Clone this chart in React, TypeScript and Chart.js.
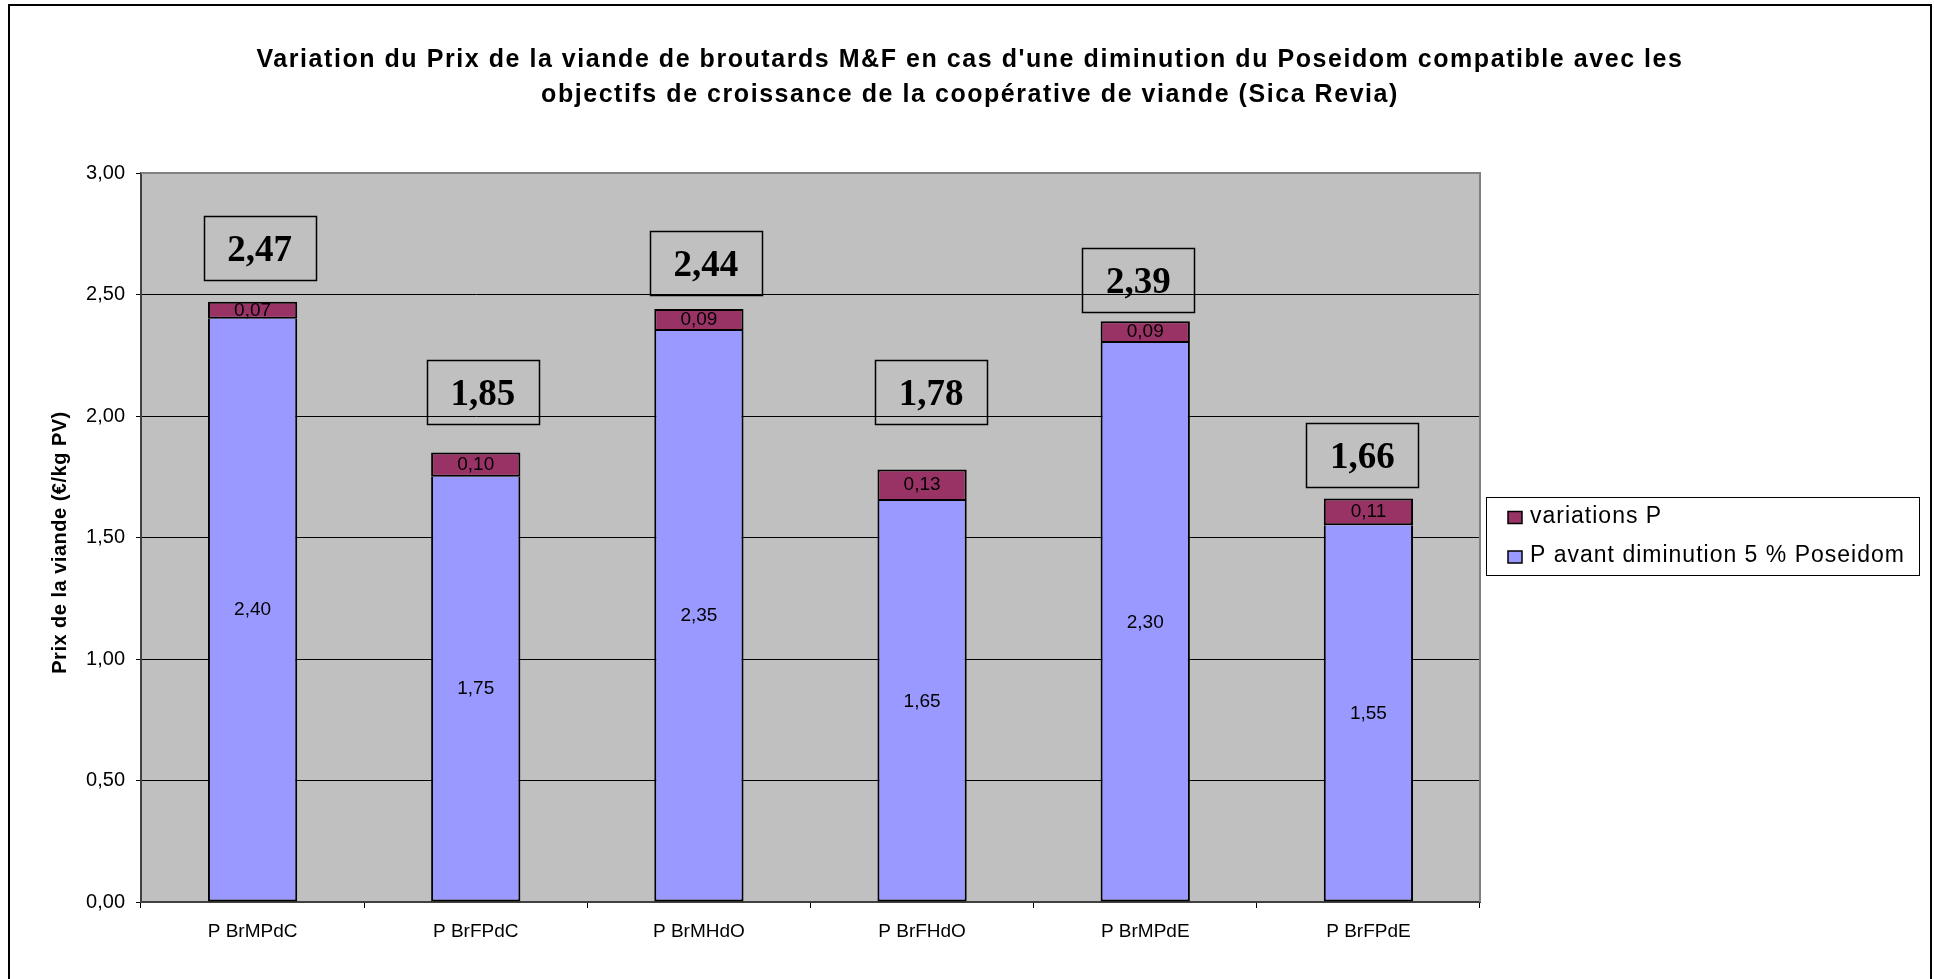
import React, { useEffect, useRef } from 'react';
import { Chart, registerables } from 'chart.js';

Chart.register(...registerables);

// ---- data ----
const categories = ['P BrMPdC', 'P BrFPdC', 'P BrMHdO', 'P BrFHdO', 'P BrMPdE', 'P BrFPdE'];
const prixAvant = [2.40, 1.75, 2.35, 1.65, 2.30, 1.55];
const variationsP = [0.07, 0.10, 0.09, 0.13, 0.09, 0.11];
const seriesNames = ['P avant diminution 5 % Poseidom', 'variations P'];
const yMin = 0;
const yMax = 3;
const yStep = 0.5;
const titleLines = [
  "Variation du Prix de la viande de broutards M&F en cas d'une diminution du Poseidom compatible avec les",
  'objectifs de croissance de la coopérative de viande (Sica Revia)',
];
const yAxisTitle = 'Prix de la viande (€/kg PV)';

// ---- layout of the boxed totals (anchor on value axis, horizontal shift in px) ----
const totalBoxAnchor = [2.69, 2.10, 2.63, 2.10, 2.56, 1.84];
const totalBoxShift = [7, 7, 7, 9, -7, -6];

// ---- styles ----
const SANS = '"Liberation Sans", Arial, Helvetica, sans-serif';
const SERIF = '"Liberation Serif", "Times New Roman", serif';
const COLOR_BASE = '#9999FF';
const COLOR_VAR = '#993366';
const PLOT_BG = '#C0C0C0';

const fmt = (v: number) => v.toFixed(2).replace('.', ',');

const decorPlugin = {
  id: 'decor',
  beforeDraw(chart: any) {
    const { ctx, chartArea: a } = chart;
    ctx.save();
    ctx.fillStyle = '#ffffff';
    ctx.fillRect(0, 0, chart.width, chart.height);
    ctx.fillStyle = PLOT_BG;
    ctx.fillRect(a.left, a.top, a.right - a.left, a.bottom - a.top);
    ctx.restore();
  },
  afterDatasetsDraw(chart: any) {
    const { ctx } = chart;
    ctx.save();
    ctx.font = `19px ${SANS}`;
    ctx.fillStyle = '#000';
    ctx.textAlign = 'center';
    ctx.textBaseline = 'middle';
    chart.data.datasets.forEach((ds: any, di: number) => {
      const meta = chart.getDatasetMeta(di);
      meta.data.forEach((bar: any, i: number) => {
        const { x, y, base } = bar.getProps(['x', 'y', 'base'], true);
        ctx.fillText(fmt(ds.data[i]), x, (y + base) / 2);
      });
    });
    ctx.restore();
  },
  afterDraw(chart: any) {
    const { ctx, chartArea: a } = chart;
    ctx.save();

    // plot area border (top / right)
    ctx.strokeStyle = '#808080';
    ctx.lineWidth = 2;
    ctx.beginPath();
    ctx.moveTo(a.left, a.top);
    ctx.lineTo(a.right, a.top);
    ctx.lineTo(a.right, a.bottom);
    ctx.stroke();

    // outer frame
    ctx.strokeStyle = '#000';
    ctx.lineWidth = 2;
    ctx.strokeRect(9, 5, chart.width - 12, chart.height + 20);

    // title
    ctx.fillStyle = '#000';
    ctx.textAlign = 'center';
    ctx.textBaseline = 'alphabetic';
    ctx.font = `bold 25px ${SANS}`;
    (ctx as any).letterSpacing = '1.55px';
    const cx = 970;
    ctx.fillText(titleLines[0], cx, 67);
    ctx.fillText(titleLines[1], cx, 102);

    // y axis title
    ctx.save();
    ctx.translate(66, (a.top + a.bottom) / 2 + 5);
    ctx.rotate(-Math.PI / 2);
    ctx.font = `bold 20px ${SANS}`;
    (ctx as any).letterSpacing = '0.5px';
    ctx.fillText(yAxisTitle, 0, 0);
    ctx.restore();

    // boxed totals
    (ctx as any).letterSpacing = '0px';
    const meta = chart.getDatasetMeta(1);
    const ys = chart.scales.y;
    const bw = 112;
    const bh = 64;
    meta.data.forEach((bar: any, i: number) => {
      const bx = bar.x + totalBoxShift[i];
      const by = ys.getPixelForValue(totalBoxAnchor[i]);
      ctx.strokeStyle = '#000';
      ctx.lineWidth = 1.5;
      ctx.strokeRect(Math.round(bx - bw / 2) + 0.5, Math.round(by - bh / 2) + 0.5, bw, bh);
      ctx.font = `bold 37px ${SERIF}`;
      ctx.textAlign = 'center';
      ctx.textBaseline = 'alphabetic';
      ctx.fillStyle = '#000';
      ctx.fillText(fmt(prixAvant[i] + variationsP[i]), bx, by + 13);
    });

    // legend
    const lx = a.right + 6.5;
    const lw = 433;
    const lh = 78;
    const ly = Math.round((a.top + a.bottom) / 2 - lh / 2 - 2) + 0.5;
    ctx.fillStyle = '#fff';
    ctx.fillRect(lx, ly, lw, lh);
    ctx.strokeStyle = '#000';
    ctx.lineWidth = 1;
    ctx.strokeRect(lx, ly, lw, lh);
    const items = [...chart.data.datasets].reverse();
    ctx.font = `23px ${SANS}`;
    (ctx as any).letterSpacing = '1px';
    ctx.textAlign = 'left';
    ctx.textBaseline = 'alphabetic';
    items.forEach((ds: any, k: number) => {
      const baseline = ly + 25 + k * 39.5;
      ctx.fillStyle = ds.backgroundColor;
      ctx.fillRect(lx + 21.5, baseline - 11, 14, 12);
      ctx.strokeStyle = '#000';
      ctx.lineWidth = 1.5;
      ctx.strokeRect(lx + 21.5, baseline - 11, 14, 12);
      ctx.fillStyle = '#000';
      ctx.fillText(ds.label, lx + 43.5, baseline);
    });

    ctx.restore();
  },
};

export default function App() {
  const ref = useRef<HTMLCanvasElement>(null);

  useEffect(() => {
    if (!ref.current) return;
    const chart = new Chart(ref.current, {
      type: 'bar',
      data: {
        labels: categories,
        datasets: [
          {
            label: seriesNames[0],
            data: prixAvant,
            backgroundColor: COLOR_BASE,
            borderColor: '#000',
            borderWidth: 2,
            borderSkipped: 'top',
            categoryPercentage: 1,
            barPercentage: 0.4,
          },
          {
            label: seriesNames[1],
            data: variationsP,
            backgroundColor: COLOR_VAR,
            borderColor: '#000',
            borderWidth: 2,
            borderSkipped: false,
            categoryPercentage: 1,
            barPercentage: 0.4,
          },
        ],
      },
      options: {
        responsive: false,
        animation: false,
        events: [],
        layout: { padding: { top: 173, right: 454, bottom: 0, left: 0 } },
        plugins: {
          legend: { display: false },
          title: { display: false },
          tooltip: { enabled: false },
        },
        scales: {
          x: {
            stacked: true,
            offset: true,
            grid: {
              offset: true,
              drawOnChartArea: false,
              drawTicks: true,
              tickLength: 6,
              color: '#000',
              lineWidth: 1,
            },
            border: { display: true, color: '#404040', width: 2 },
            ticks: {
              color: '#000',
              font: { family: SANS, size: 19 },
              padding: 12,
              maxRotation: 0,
              autoSkip: false,
            },
            afterFit: (s: any) => {
              s.height = 77;
            },
          },
          y: {
            stacked: true,
            min: yMin,
            max: yMax,
            ticks: {
              stepSize: yStep,
              color: '#000',
              font: { family: SANS, size: 20 },
              padding: 11,
              callback: (v: any) => fmt(Number(v)),
            },
            grid: {
              color: '#000',
              lineWidth: 1,
              drawTicks: true,
              tickLength: 5,
            },
            border: { display: true, color: '#404040', width: 2 },
            afterFit: (s: any) => {
              s.width = 141;
            },
          },
        },
      },
      plugins: [decorPlugin],
    });
    return () => chart.destroy();
  }, []);

  return (
    <div style={{ position: 'fixed', left: 0, top: 0, width: 1934, height: 979, background: '#fff' }}>
      <canvas ref={ref} width={1934} height={979} style={{ display: 'block', width: 1934, height: 979 }} />
    </div>
  );
}
